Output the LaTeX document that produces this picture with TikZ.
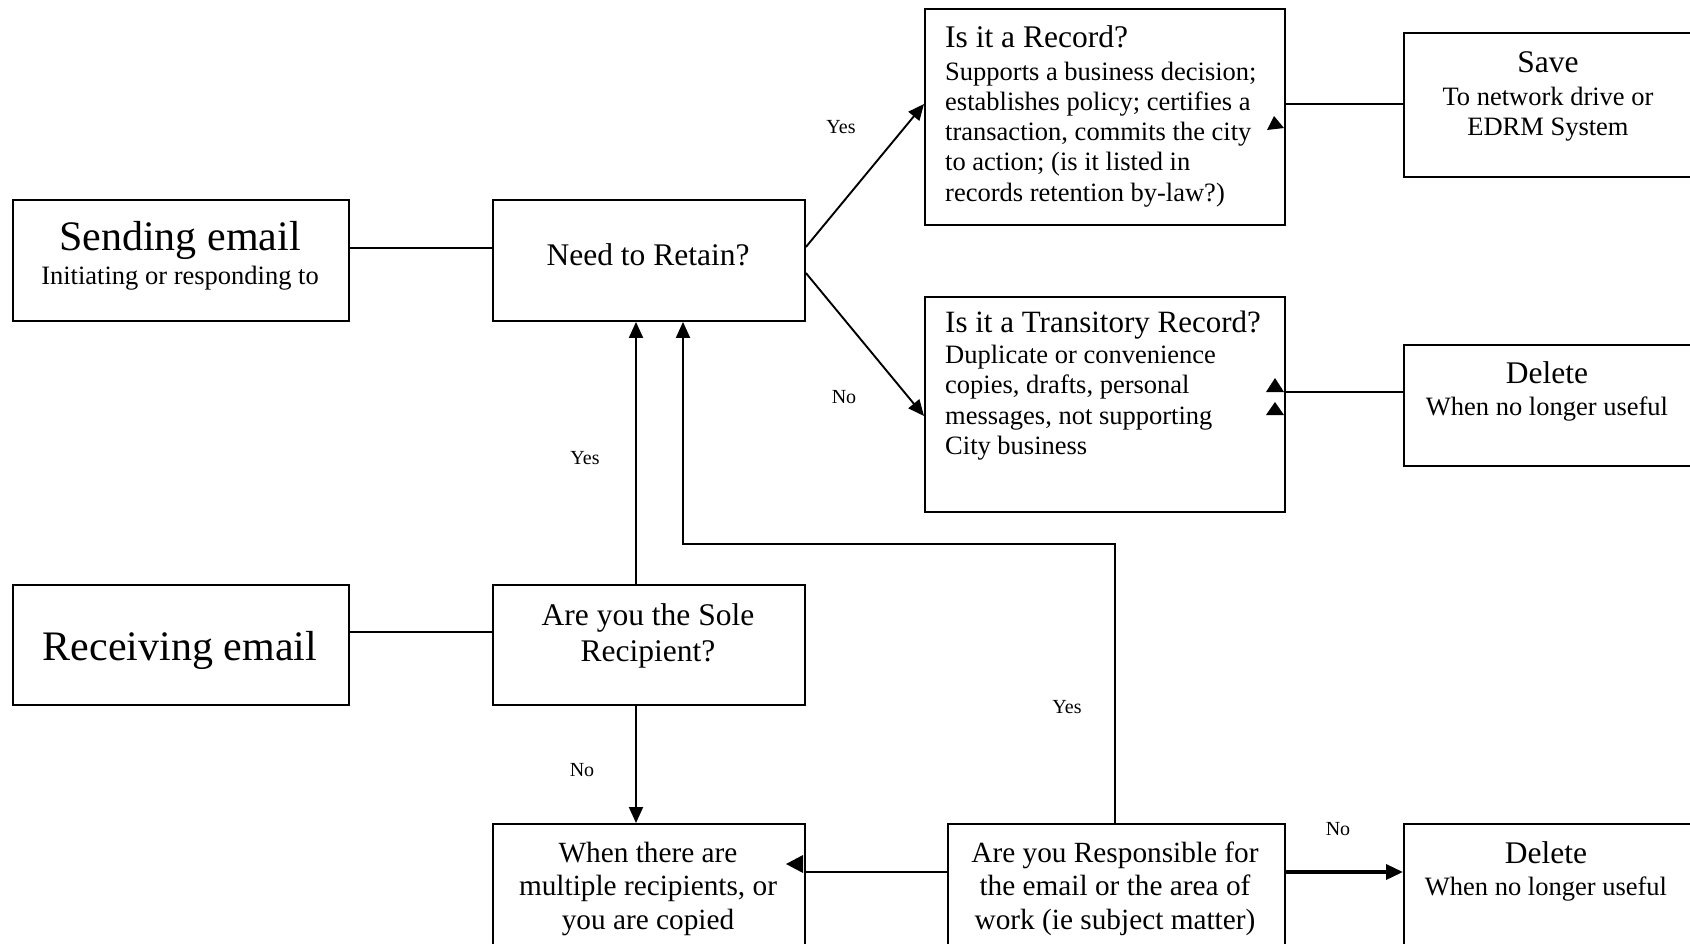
\documentclass[tikz,border=0pt]{standalone}
\usepackage{fontspec}
\setmainfont{Liberation Serif}
\usetikzlibrary{arrows.meta}
\newcommand{\tf}[2]{\fontsize{#1}{#2}\selectfont}
\begin{document}
\begin{tikzpicture}[x=1pt,y=-1pt,
  box/.style={draw, line width=1.9pt, rectangle, inner sep=0pt, anchor=north west},
  txt/.style={inner sep=0pt},
  lbl/.style={inner sep=0pt, font=\tf{20}{24}},
  conn/.style={line width=1.9pt},
  arr/.style={conn, -{Triangle[length=16pt,width=14pt]}}]
\useasboundingbox (0,0) rectangle (1690,943);
\clip (0,0) rectangle (1690,943);

% boxes
\node[box, minimum width=336pt, minimum height=121pt] (send) at (12,199) {};
\node[box, minimum width=312pt, minimum height=121pt] (need) at (492,199) {};
\node[box, minimum width=360pt, minimum height=216pt] (rec) at (924,8) {};
\node[box, minimum width=400pt, minimum height=144pt] (save) at (1403,32) {};
\node[box, minimum width=360pt, minimum height=215pt] (trans) at (924,296) {};
\node[box, minimum width=400pt, minimum height=121pt] (del1) at (1403,344) {};
\node[box, minimum width=336pt, minimum height=120pt] (recv) at (12,584) {};
\node[box, minimum width=312pt, minimum height=120pt] (sole) at (492,584) {};
\node[box, minimum width=312pt, minimum height=200pt] (multi) at (492,823) {};
\node[box, minimum width=337pt, minimum height=200pt] (resp) at (947,823) {};
\node[box, minimum width=400pt, minimum height=200pt] (del2) at (1403,823) {};

% texts
\node[txt, anchor=base, font=\tf{42}{48}] (sendT) at (180,250) {Sending email};
\node[txt, anchor=base, font=\tf{26.5}{30}] (sendS) at (180,284) {Initiating or responding to};
\node[txt, anchor=base, font=\tf{31.5}{36}] (needT) at (648,265) {Need to Retain?};
\node[txt, anchor=base west, font=\tf{31.5}{36}] (recT) at (945,47) {Is it a Record?};
\node[txt, anchor=north west, align=left, font=\tf{26.5}{30.2}] (recS) at (945,58.9) {\strut Supports a business decision;\\establishes policy; certifies a\\transaction, commits the city\\to action; (is it listed in\\records retention by-law?)};
\node[txt, anchor=base, font=\tf{31.5}{36}] (saveT) at (1548,72) {Save};
\node[txt, anchor=north, align=center, font=\tf{26.5}{30}] (saveS) at (1548,84) {\strut To network drive or\\EDRM System};
\node[txt, anchor=base west, font=\tf{31}{36}] (transT) at (945,332) {Is it a Transitory Record?};
\node[txt, anchor=north west, align=left, font=\tf{26.5}{30.5}] (transS) at (945,341.7) {\strut Duplicate or convenience\\copies, drafts, personal\\messages, not supporting\\City business};
\node[txt, anchor=base, font=\tf{31.5}{36}] (del1T) at (1547,383) {Delete};
\node[txt, anchor=base, font=\tf{26.5}{30}] (del1S) at (1547,415) {When no longer useful};
\node[txt, anchor=base, font=\tf{42}{48}] (recvT) at (180,660) {Receiving email};
\node[txt, anchor=north, align=center, font=\tf{31.5}{36}] (soleT) at (648,599.8) {\strut Are you the Sole\\Recipient?};
\node[txt, anchor=north, align=center, font=\tf{29.3}{33.5}] (multiT) at (648,838.5) {\strut When there are\\multiple recipients, or\\you are copied};
\node[txt, anchor=north, align=center, font=\tf{29.3}{33.5}] (respT) at (1115,838.5) {\strut Are you Responsible for\\the email or the area of\\work (ie subject matter)};
\node[txt, anchor=base, font=\tf{31.5}{36}] (del2T) at (1546,863) {Delete};
\node[txt, anchor=base, font=\tf{26.5}{30}] (del2S) at (1546,895) {When no longer useful};

% connectors
\draw[conn] (send.east |- 0,248) -- (need.west |- 0,248);
\draw[conn] (recv.east |- 0,632) -- (sole.west |- 0,632);
\draw[arr] (need.east |- 0,247) -- (rec.west |- 0,104);
\draw[arr] (need.east |- 0,273) -- (trans.west |- 0,416);
\draw[arr] (sole.north -| 636,0) -- (need.south -| 636,0);
\draw[arr] (sole.south -| 636,0) -- (multi.north -| 636,0);
\coordinate (c1) at (1115,544);
\coordinate (c2) at (683,544);
\draw[arr] (resp.north -| c1) -- (c1) -- (c2) -- (need.south -| c2);
\draw[conn] (resp.west |- 0,872) -- (multi.east |- 0,872);
\fill (803,855) -- (786,864) -- (803,873) -- cycle;
\draw[conn, line width=3.5pt, -{Triangle[length=17pt,width=15pt]}] (resp.east |- 0,872) -- (del2.west |- 0,872);
\draw[conn] (save.west |- 0,104) -- (rec.east |- 0,104);
\fill (1274,116) -- (1284,128) -- (1267,130) -- cycle;
\draw[conn] (del1.west |- 0,392) -- (trans.east |- 0,392);
\fill (1266,392) -- (1275,378) -- (1284,392) -- cycle;
\fill (1266,415) -- (1275,402) -- (1284,415) -- cycle;

% labels
\node[lbl] (l1) at (841,127) {Yes};
\node[lbl] (l2) at (844,397) {No};
\node[lbl] (l3) at (585,458) {Yes};
\node[lbl] (l4) at (582,770) {No};
\node[lbl] (l5) at (1067,707) {Yes};
\node[lbl] (l6) at (1338,829) {No};
\end{tikzpicture}
\end{document}
